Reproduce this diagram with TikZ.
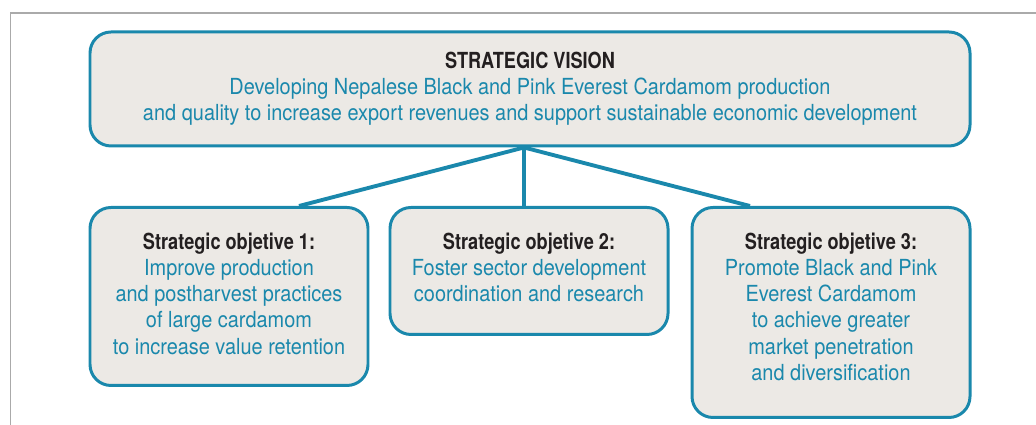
\documentclass[tikz,border=0pt]{standalone}
\usepackage{fontspec}
\setmainfont{TeX Gyre Heros}[FakeStretch=0.9, BoldFeatures={FakeStretch=0.82}]
\definecolor{cardblue}{HTML}{1A88AC}
\definecolor{boxfill}{HTML}{ECE9E5}
\definecolor{textdark}{HTML}{231F20}
\definecolor{framegray}{HTML}{AAAAAA}

\begin{document}
\begin{tikzpicture}[
   box/.style={draw=cardblue, line width=1.7pt, fill=boxfill, rounded corners=0.42cm,
               align=center, text=cardblue, font=\fontsize{12.6}{14.9}\selectfont},
   link/.style={draw=cardblue, line width=2.2pt}]
   \useasboundingbox (0,0) rectangle (20.72,8.5);
   \draw[framegray, line width=0.6pt] (0.21,0) -- (0.21,8.24) -- (20.72,8.24);
 % vision on top
   \node[box, minimum width=17.6cm, minimum height=2.28cm] (vision) at (10.6,6.72)
     {\textcolor{textdark}{\bfseries STRATEGIC VISION}\\
      Developing Nepalese Black and Pink Everest Cardamom production\\
      and quality to increase export revenues and support sustainable economic development};
 % the three objectives (struts lift the text a bit)
 \begin{scope}[every node/.style={box, anchor=north, minimum width=5.56cm}]
   \node[minimum height=3.56cm] (obj1) at (4.58,4.38)
     {\textcolor{textdark}{\bfseries Strategic objetive 1:}\\
      Improve production\\and postharvest practices\\of large cardamom\\to increase value retention\rule[-0.12cm]{0pt}{0pt}};
   \node[minimum height=2.54cm] (obj2) at (10.58,4.38)
     {\textcolor{textdark}{\bfseries Strategic objetive 2:}\\
      Foster sector development\\coordination and research\rule[-0.14cm]{0pt}{0pt}};
   \node[minimum height=4.2cm] (obj3) at (16.62,4.38)
     {\textcolor{textdark}{\bfseries Strategic objetive 3:}\\
      Promote Black and Pink\\Everest Cardamom\\to achieve greater\\market penetration\\and diversification\rule[-0.24cm]{0pt}{0pt}};
 \end{scope}
   \coordinate (hub) at ([xshift=-0.12cm]vision.south);
   \draw[link] (hub) -- ([xshift=1.4cm]obj1.north);
   \draw[link] (hub) -- (hub |- obj2.north);
   \draw[link] (hub) -- ([xshift=-1.62cm]obj3.north);
\end{tikzpicture}
\end{document}
